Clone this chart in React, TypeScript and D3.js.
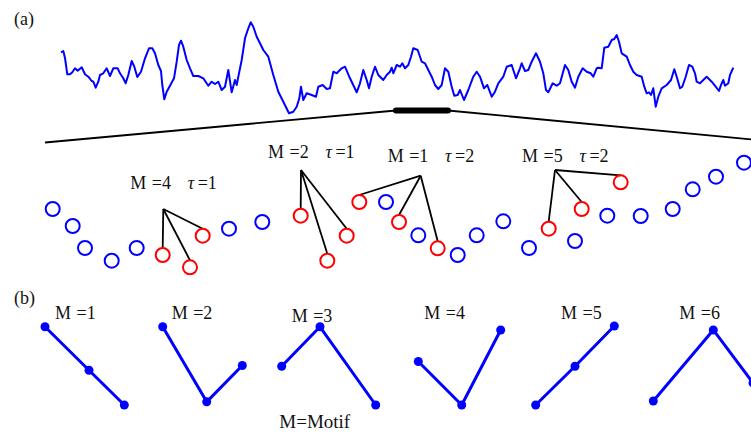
import React, { useEffect } from 'react';
import * as d3 from 'd3';

const W = 751;
const H = 432;

// Long recording shown at the top of panel (a): time (t) and amplitude (v)
const seriesT = [1, 3.3, 5, 7.3, 10, 12.3, 15, 17.7, 21.7, 25, 28.3, 31.7, 33.3, 35.7, 38.3, 40, 43.3, 46.7, 50, 53.3, 57.7, 60, 63.3, 65.7, 68.3, 71.7, 74.3, 77.3, 81, 85, 89, 92.3, 95, 98.3, 101, 102.3, 104.3, 106.7, 110, 114, 116.7, 119, 121, 123.3, 126.7, 130, 133.3, 138.3, 143.3, 148.3, 151.7, 155, 158.3, 161.7, 165, 168.3, 171.7, 175, 176.7, 178.3, 181.7, 185, 188.3, 190.7, 193.3, 196.7, 200, 203.3, 208.3, 213.3, 218.3, 223.3, 229, 233.3, 236.7, 239.3, 241, 243.3, 246.7, 251.7, 256, 258.3, 262.7, 266.7, 270, 273.3, 276.7, 281.7, 285, 290, 296.7, 300, 303.3, 306.7, 309, 311.7, 315, 318.3, 323.3, 326.7, 330, 331.7, 333.3, 336.7, 340, 342.3, 345, 348.3, 351, 353.3, 357.7, 361.7, 365, 368.3, 371.7, 375, 378.3, 381.7, 385, 388.3, 391.7, 394.3, 397.7, 400, 404, 408.3, 413.3, 416.7, 420, 424, 427.3, 431.7, 435, 438.3, 443.3, 446.7, 451.7, 456, 460, 461.7, 465, 468.3, 471.7, 476, 480, 483.3, 486, 488.3, 492.7, 496.7, 500, 505, 508.3, 511.7, 515, 518.3, 522.7, 526.7, 530.7, 533.3, 536.7, 538.3, 541.7, 544.3, 548.3, 551.7, 554.3, 556.7, 559, 561.7, 566.7, 570, 573.3, 576.7, 581.7, 584.3, 586.7, 589, 591, 593.3, 595.7, 598.3, 601.7, 606.7, 611, 614.3, 616.7, 620, 622.3, 625.7, 629, 632.3, 635, 636.7, 640, 643.3, 646.7, 651.7, 655.7, 659, 661, 663.3, 665, 668.3, 670, 673.3];
const seriesV = [67.7, 69, 62, 45.7, 45.7, 47.7, 51.7, 49.3, 52.7, 45.7, 43.3, 39, 38.3, 32.3, 38.3, 45, 46.7, 51.7, 44, 51.7, 51.7, 46.7, 41.7, 36.7, 45, 59, 53.3, 43, 48.3, 61.7, 71.7, 71.7, 66.7, 55, 49, 35, 20.7, 28.3, 34.3, 41.7, 58.3, 75, 79.3, 73.3, 60, 51.7, 44, 44, 41.7, 34.3, 38.3, 36, 38.3, 30, 33.3, 50, 27.7, 40, 35, 43.3, 60, 81.7, 91.7, 97.7, 93.3, 83.3, 76.7, 70, 63.3, 45, 28.3, 18.3, 6.7, 8.3, 13.3, 21.7, 33.3, 20, 26.7, 25, 23.3, 33.3, 35, 31, 31.7, 48.3, 46.7, 51.7, 53.3, 41.7, 27.7, 36.7, 50, 40, 31.7, 43.3, 53.3, 45, 40, 45, 48.3, 52.3, 46.7, 55, 53.3, 56.7, 51.7, 55, 63.3, 71.7, 70, 58.3, 56.7, 50, 43.3, 35, 31, 35, 51.7, 48.3, 33.3, 24.3, 25, 30, 20, 30, 43.3, 48.3, 43.3, 31.7, 35, 23.3, 28.3, 36.7, 43.3, 53.3, 55, 41.7, 51.7, 56.7, 49, 50, 58.3, 66.7, 58.3, 46.7, 30, 27.7, 36.7, 34.3, 36.7, 55, 50, 38.3, 32.3, 43.3, 51.7, 48.3, 46.7, 43.3, 51.7, 52.3, 51.7, 72.3, 73.3, 80, 81, 85, 78.3, 66.7, 63.3, 55, 48.3, 45, 43.3, 33.3, 26.7, 27.7, 25, 31.7, 13.3, 23.3, 31.7, 35, 40, 50.7, 43.3, 31.7, 33.3, 43.3, 55, 53.3, 46.7, 38.3, 36.7, 40, 43.3, 38.3, 33.3, 29, 35, 40, 34.3, 36.7, 45, 52.3];

// Stretch of the recording that is magnified below
const zoomWindow = [336, 388];

// Magnified samples: position along the stretch and amplitude
const sampleT = [7.7, 27.7, 40, 66.7, 91.7, 117.7, 145, 157.7, 184, 217.3, 255.7, 282.3, 301.7, 314.3, 341, 354, 373.3, 392.7, 412.7, 431.7, 458.3, 484, 503.7, 530, 536.7, 562.3, 575.7, 595.7, 627.7, 647.7, 671, 699];
const sampleV = [71, 54, 32, 19.3, 32, 25, 12.7, 44.3, 51.3, 58, 64.3, 19.3, 44.3, 78, 78, 58, 44.7, 31.7, 25, 44.7, 58.7, 32, 51.3, 39, 71, 64.3, 97.7, 64, 71, 90.7, 103.3, 117.3];

// Embedded motifs picked out of the samples
const groupMotif = ['4', '2', '1', '5'];
const groupTau = ['1', '1', '2', '2'];
const groupStart = [5, 10, 13, 22];
const groupStep = [1, 1, 2, 2];
const apexT = [118.3, 256, 375.7, 510];
const apexV = [71, 110, 104.3, 110];
const groupLabelV = [90.7, 121.7, 117.7, 117.7];

// Panel (b): the six ordinal motifs
const motifNames = ['1', '2', '3', '4', '5', '6'];
const motifU = [
  [0, 44, 79.3],
  [117.7, 161.7, 197.3],
  [236.7, 275, 330.7],
  [373.3, 416.7, 455.7],
  [490.7, 530, 569.3],
  [608.3, 668.3, 708],
];
const motifV = [
  [0.99, 0.44, 0],
  [0.99, 0.04, 0.5],
  [0.49, 0.99, 0],
  [0.55, 0, 0.95],
  [0, 0.49, 1],
  [0.05, 0.95, 0.28],
];
const motifLabelU = [10, 126.7, 246.7, 379.3, 516, 634.3];
const motifLabelLift = [0, 0, -2.4, 0, 0, 0];

const BLUE = '#0000ff';
const RED = '#ff0000';
const FONT = '"Liberation Serif", "Times New Roman", serif';

function MotifLabel({ x, y, m, tau }: { x: number; y: number; m: string; tau?: string }) {
  return (
    <text x={x} y={y} fontFamily={FONT} fontSize={18} fill="#111">
      <tspan x={x}>M</tspan>
      <tspan x={x + 21.5}>={m}</tspan>
      {tau !== undefined && (
        <>
          <tspan x={x + 57.4} fontStyle="italic">τ</tspan>
          <tspan x={x + 67.4}>={tau}</tspan>
        </>
      )}
    </text>
  );
}

export default function App() {
  useEffect(() => {
    document.body.style.margin = '0';
  }, []);

  // recording scales
  const x = d3.scaleLinear().domain([0, 680]).range([60, 740]);
  const y = d3.scaleLinear().domain([0, 100]).range([120, 20]);
  const seriesPts: [number, number][] = seriesT.map((t, i) => [x(t), y(seriesV[i])]);
  const seriesPath = d3.line()(seriesPts) || '';

  // magnified sample scales
  const sx = d3.scaleLinear().domain([0, 706]).range([45, 751]);
  const sy = d3.scaleLinear().domain([0, 120]).range([280, 160]);
  const R = 7;

  const redSet = new Set<number>();
  groupStart.forEach((s, g) => {
    for (let k = 0; k < 3; k++) redSet.add(s + k * groupStep[g]);
  });

  // zoom bracket: from the magnified stretch ends up to the highlighted window
  const winY = 110.5;
  const bracketLeft = d3.line()([
    [sx(0), 142.5],
    [x(zoomWindow[0]), winY],
  ]) || '';
  const bracketRight = d3.line()([
    [x(zoomWindow[1]), winY],
    [sx(706), 139.4],
  ]) || '';

  // panel (b) scales
  const bx = d3.scaleLinear().domain([0, 705]).range([45, 750]);
  const by = d3.scaleLinear().domain([0, 1]).range([405, 326]);

  return (
    <svg
      width={W}
      height={H}
      viewBox={`0 0 ${W} ${H}`}
      style={{ position: 'absolute', left: 0, top: 0, background: '#fff' }}
    >
      <rect width={W} height={H} fill="#fff" />

      {/* panel labels */}
      <text x={14} y={25} fontFamily={FONT} fontSize={18} fill="#111">(a)</text>
      <text x={14} y={304} fontFamily={FONT} fontSize={18} fill="#111">(b)</text>

      {/* recording */}
      <path d={seriesPath} fill="none" stroke={BLUE} strokeWidth={2} strokeLinejoin="round" />

      {/* zoom bracket */}
      <path d={bracketLeft} fill="none" stroke="#000" strokeWidth={1.8} />
      <path d={bracketRight} fill="none" stroke="#000" strokeWidth={1.8} />
      <line
        x1={x(zoomWindow[0])}
        x2={x(zoomWindow[1])}
        y1={winY}
        y2={winY}
        stroke="#000"
        strokeWidth={6}
        strokeLinecap="round"
      />

      {/* connectors from each motif apex to its three samples */}
      {groupStart.map((s, g) => {
        const ax = sx(apexT[g]);
        const ay = sy(apexV[g]);
        return (
          <g key={`tree-${g}`}>
            {[0, 1, 2].map((k) => {
              const idx = s + k * groupStep[g];
              const cx = sx(sampleT[idx]);
              const cy = sy(sampleV[idx]);
              return (
                <line key={k} x1={ax} y1={ay} x2={cx} y2={cy - R} stroke="#000" strokeWidth={1.8} />
              );
            })}
          </g>
        );
      })}

      {/* magnified samples */}
      {sampleT.map((t, i) => (
        <circle
          key={`s-${i}`}
          cx={sx(t)}
          cy={sy(sampleV[i])}
          r={R}
          fill="none"
          stroke={redSet.has(i) ? RED : BLUE}
          strokeWidth={2}
        />
      ))}

      {/* motif / delay labels */}
      {groupStart.map((_, g) => (
        <MotifLabel
          key={`gl-${g}`}
          x={sx(apexT[g]) - 33}
          y={sy(groupLabelV[g])}
          m={groupMotif[g]}
          tau={groupTau[g]}
        />
      ))}

      {/* panel (b) motifs */}
      {motifNames.map((name, m) => {
        const pts: [number, number][] = motifU[m].map((u, k) => [bx(u), by(motifV[m][k])]);
        return (
          <g key={`m-${m}`}>
            <path d={d3.line()(pts) || ''} fill="none" stroke={BLUE} strokeWidth={3} strokeLinejoin="round" />
            {pts.map((p, k) => (
              <circle key={k} cx={p[0]} cy={p[1]} r={4.5} fill={BLUE} />
            ))}
            <MotifLabel x={bx(motifLabelU[m])} y={319.3 - motifLabelLift[m]} m={name} />
          </g>
        );
      })}

      <text x={279.3} y={428} fontFamily={FONT} fontSize={19} fill="#111">M=Motif</text>
    </svg>
  );
}
